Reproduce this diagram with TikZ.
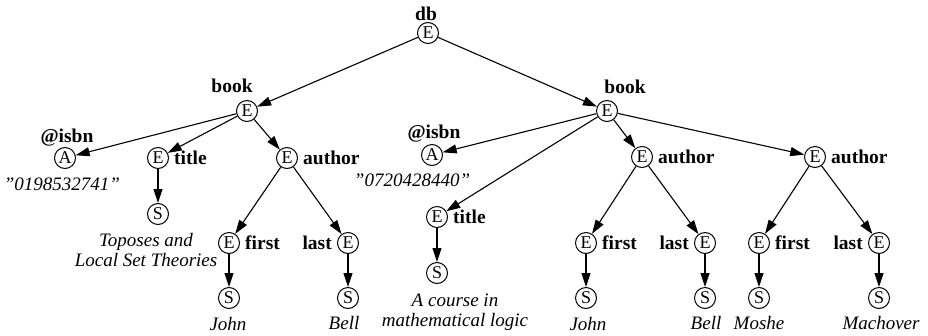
\documentclass[tikz,border=0pt]{standalone}
\usepackage{fontspec}
\setmainfont{Liberation Serif}[ItalicFont={Liberation Serif Italic},BoldFont={Liberation Serif Bold}]
\usetikzlibrary{arrows.meta}
\newcommand{\sq}{\symbol{34}}
\begin{document}
\begin{tikzpicture}[x=1pt,y=-1pt,
  nd/.style={circle,draw,line width=1pt,minimum size=21pt,inner sep=0pt,font=\fontsize{18}{20}\selectfont},
  lbl/.style={inner sep=0pt,font=\fontsize{19.5}{21}\selectfont\bfseries},
  val/.style={inner sep=0pt,align=center,font=\fontsize{19}{20}\selectfont\itshape},
  edge/.style={line width=1.1pt,-{Triangle[length=14pt,width=9pt]}}]
\useasboundingbox (0,0) rectangle (928,335);
% nodes
\node[nd] (db) at (428,33) {E};
\node[lbl] (ldb) at (426,14) {db};
\node[nd] (b1) at (247,111) {E};
\node[lbl] (lb1) at (232,86) {book};
\node[nd] (b2) at (607,111) {E};
\node[lbl] (lb2) at (625,87) {book};
% left book
\node[nd] (a1) at (65,158) {A};
\node[lbl] (la1) at (67,138) {@isbn};
\node[val] (va1) at (62,184) {\sq0198532741\sq};
\node[nd] (t1) at (158,158) {E};
\node[lbl,anchor=west] (lt1) at ([xshift=5pt]t1.east) {title};
\node[nd] (ts1) at (158,214) {S};
\node[val] (vt1) at (146,250) {Toposes and\\Local Set Theories};
\node[nd] (au1) at (287,158) {E};
\node[lbl,anchor=west] (lau1) at ([xshift=5pt]au1.east) {author};
\node[nd] (f1) at (229,243) {E};
\node[lbl,anchor=west] (lf1) at ([xshift=5pt]f1.east) {first};
\node[nd] (fs1) at (229,298) {S};
\node[val] (vf1) at (228,324) {John};
\node[nd] (l1) at (348,243) {E};
\node[lbl,anchor=east] (ll1) at ([xshift=-5pt]l1.west) {last};
\node[nd] (ls1) at (348,298) {S};
\node[val] (vl1) at (344,323) {Bell};
% right book
\node[nd] (a2) at (432,155) {A};
\node[lbl] (la2) at (434,134) {@isbn};
\node[val] (va2) at (412,180) {\sq0720428440\sq};
\node[nd] (t2) at (437,217) {E};
\node[lbl,anchor=west] (lt2) at ([xshift=5pt]t2.east) {title};
\node[nd] (ts2) at (437,273) {S};
\node[val] (vt2) at (455,312) {A course in\\mathematical logic};
\node[nd] (au2) at (642,157) {E};
\node[lbl,anchor=west] (lau2) at ([xshift=5pt]au2.east) {author};
\node[nd] (f2) at (586,243) {E};
\node[lbl,anchor=west] (lf2) at ([xshift=5pt]f2.east) {first};
\node[nd] (fs2) at (586,298) {S};
\node[val] (vf2) at (588,324) {John};
\node[nd] (l2) at (705,243) {E};
\node[lbl,anchor=east] (ll2) at ([xshift=-5pt]l2.west) {last};
\node[nd] (ls2) at (705,298) {S};
\node[val] (vl2) at (706,323) {Bell};
\node[nd] (au3) at (815,157) {E};
\node[lbl,anchor=west] (lau3) at ([xshift=5pt]au3.east) {author};
\node[nd] (f3) at (759,243) {E};
\node[lbl,anchor=west] (lf3) at ([xshift=5pt]f3.east) {first};
\node[nd] (fs3) at (759,298) {S};
\node[val] (vf3) at (759,323) {Moshe};
\node[nd] (l3) at (879,243) {E};
\node[lbl,anchor=east] (ll3) at ([xshift=-5pt]l3.west) {last};
\node[nd] (ls3) at (879,298) {S};
\node[val] (vl3) at (881,323) {Machover};
% edges
\draw[edge] (db) -- (b1);
\draw[edge] (db) -- (b2);
\draw[edge] (b1) -- (a1);
\draw[edge] (b1) -- (t1);
\draw[edge] (b1) -- (au1);
\draw[edge] (t1) -- (ts1);
\draw[edge] (au1) -- (f1);
\draw[edge] (au1) -- (l1);
\draw[edge] (f1) -- (fs1);
\draw[edge] (l1) -- (ls1);
\draw[edge] (b2) -- (a2);
\draw[edge] (b2) -- (t2);
\draw[edge] (b2) -- (au2);
\draw[edge] (b2) -- (au3);
\draw[edge] (t2) -- (ts2);
\draw[edge] (au2) -- (f2);
\draw[edge] (au2) -- (l2);
\draw[edge] (f2) -- (fs2);
\draw[edge] (l2) -- (ls2);
\draw[edge] (au3) -- (f3);
\draw[edge] (au3) -- (l3);
\draw[edge] (f3) -- (fs3);
\draw[edge] (l3) -- (ls3);
\end{tikzpicture}
\end{document}
